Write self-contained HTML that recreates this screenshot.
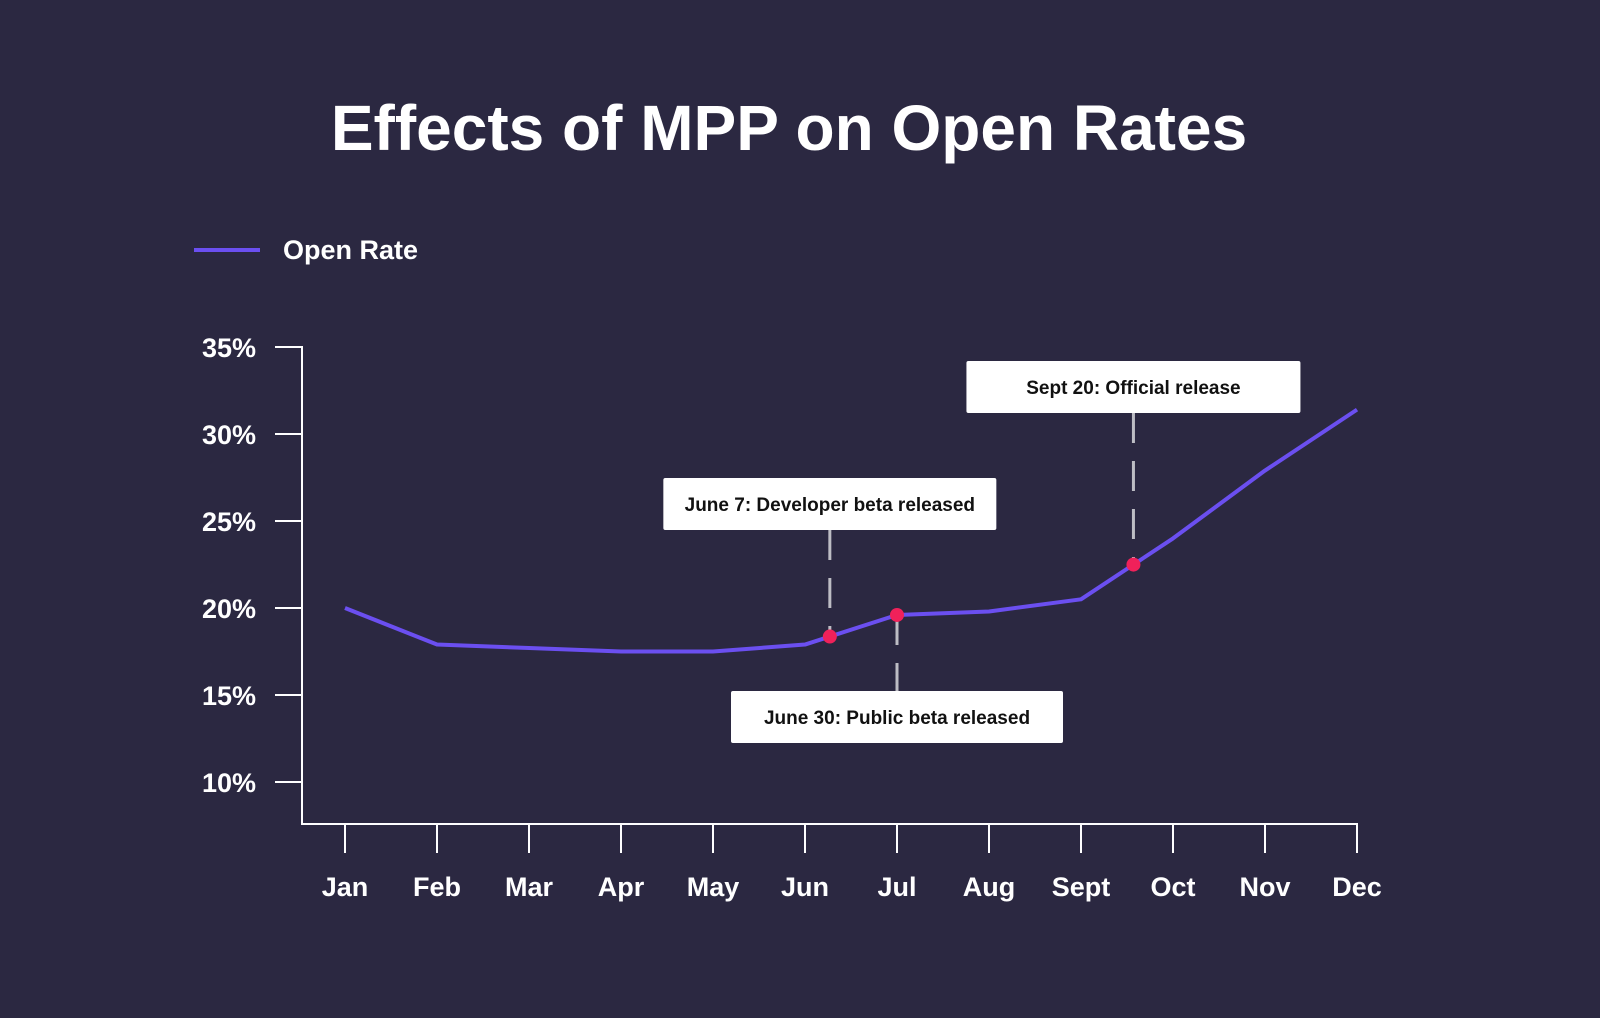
<!DOCTYPE html>
<html><head><meta charset="utf-8"><style>
html,body{margin:0;padding:0;background:#2b2841;}
svg{display:block;font-family:"Liberation Sans",sans-serif;}
</style></head><body>
<svg id="chart" width="1600" height="1018" viewBox="0 0 1600 1018" xmlns="http://www.w3.org/2000/svg">
<rect width="1600" height="1018" fill="#2b2841"/>
<text x="789" y="150" text-anchor="middle" font-size="64" font-weight="bold" fill="#fff">Effects of MPP on Open Rates</text>
<line x1="194" y1="250" x2="260" y2="250" stroke="#6b4ff0" stroke-width="4"/>
<text x="283" y="259" font-size="27" font-weight="bold" fill="#fff">Open Rate</text>
<g id="axes"></g>
<g id="annos"></g>
<g id="series"></g>
</svg>
<script>
const months = ["Jan","Feb","Mar","Apr","May","Jun","Jul","Aug","Sept","Oct","Nov","Dec"];
const openRate = [20.0,17.9,17.7,17.5,17.5,17.9,19.6,19.8,20.5,24.0,27.9,31.4];
const yTicks = [10,15,20,25,30,35];
const yTickLabels = ["10%","15%","20%","25%","30%","35%"];
const eventPos = [5.27, 6.0, 8.57];
const eventLabels = ["June 7: Developer beta released","June 30: Public beta released","Sept 20: Official release"];
const eventAbove = [true,false,true];

const NS="http://www.w3.org/2000/svg";
function X(i){return 345+i*92;}
function Y(v){return 347+(35-v)*17.4;}
function mk(tag,attrs,parent){const e=document.createElementNS(NS,tag);for(const k in attrs)e.setAttribute(k,attrs[k]);parent.appendChild(e);return e;}
function valAt(p){const i=Math.floor(p),f=p-i;if(i>=openRate.length-1)return openRate[openRate.length-1];return openRate[i]+(openRate[i+1]-openRate[i])*f;}

const axes=document.getElementById('axes');
const ax=mk('path',{d:"M275 347 H302 V824 H1357 V853",fill:"none",stroke:"#fff","stroke-width":2},axes);


yTicks.forEach((t,k)=>{
  const l=mk('line',{x1:275,x2:302,y1:Y(t),y2:Y(t),stroke:"#fff","stroke-width":2},axes);
  
  
  const tx=mk('text',{x:256,y:Y(t)+10,"text-anchor":"end","font-size":27,"font-weight":"bold",fill:"#fff"},axes);
  tx.textContent=yTickLabels[k];
  
  
});
months.forEach((m,i)=>{
  const l=mk('line',{x1:X(i),x2:X(i),y1:824,y2:853,stroke:"#fff","stroke-width":2},axes);
  
  
  const tx=mk('text',{x:X(i),y:896,"text-anchor":"middle","font-size":27,"font-weight":"bold",fill:"#fff"},axes);
  tx.textContent=m;
  
  
});

const annos=document.getElementById('annos');
const boxW=[333,332,334];
const boxY=[478,691,361];
eventPos.forEach((p,k)=>{
  const x=X(p),y=Y(valAt(p));
  const by=boxY[k];
  const ly1=eventAbove[k]?by+52:y, ly2=eventAbove[k]?y:by;
  const dl=mk('line',{x1:x,x2:x,y1:ly1,y2:ly2,stroke:"#bdbdc4","stroke-width":3,"stroke-dasharray":"30 18"},annos);
  
  
  const r=mk('rect',{x:x-boxW[k]/2,y:by,width:boxW[k],height:52,rx:2,fill:"#fff"},annos);
  
  
  const t=mk('text',{x:x,y:by+33,"text-anchor":"middle","font-size":19,"font-weight":"bold",fill:"#111"},annos);
  t.textContent=eventLabels[k];
  
  
});

const series=document.getElementById('series');
const pl=mk('polyline',{points:openRate.map((v,i)=>X(i)+","+Y(v)).join(" "),fill:"none",stroke:"#6b4ff0","stroke-width":4,"stroke-linejoin":"round"},series);


eventPos.forEach(p=>{
  const c=mk('circle',{cx:X(p),cy:Y(valAt(p)),r:7,fill:"#f0215a"},series);
  
  
});
</script>
</body></html>
